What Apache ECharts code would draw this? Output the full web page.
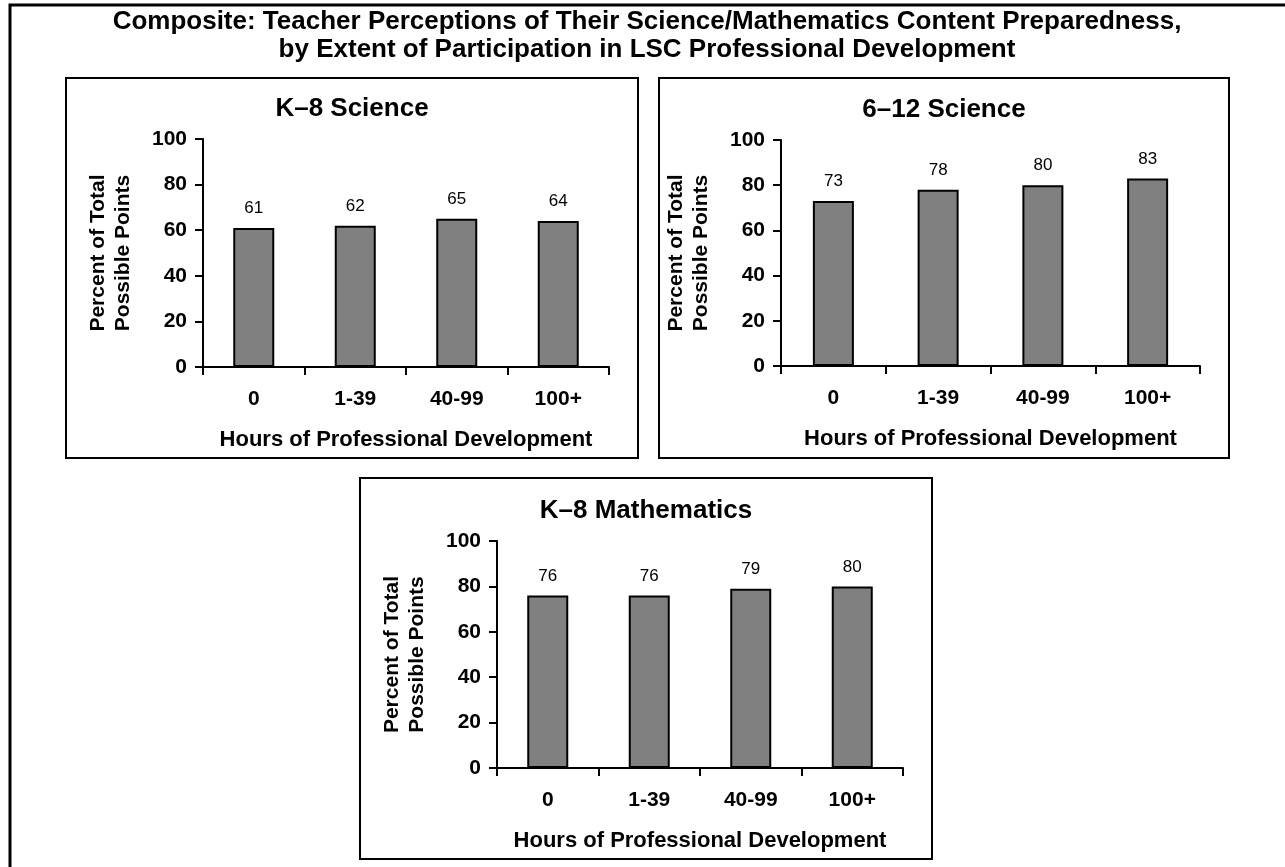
<!DOCTYPE html>
<html>
<head>
<meta charset="utf-8">
<script src="https://cdn.jsdelivr.net/npm/echarts@6/dist/echarts.min.js"></script>
<style>
html,body{margin:0;padding:0;background:#fff;}
#chart{width:1285px;height:867px;}
</style>
</head>
<body>
<div id="chart"></div>
<script>
// ---- data ----
const categories = ['0', '1-39', '40-99', '100+'];
const k8Science = [61, 62, 65, 64];
const science612 = [73, 78, 80, 83];
const k8Math = [76, 76, 79, 80];
const yMin = 0, yMax = 100, yInterval = 20;

const mainTitle = 'Composite: Teacher Perceptions of Their Science/Mathematics Content Preparedness,\nby Extent of Participation in LSC Professional Development';
const panelTitles = ['K\u20138 Science', '6\u201312 Science', 'K\u20138 Mathematics'];
const xName = 'Hours of Professional Development';
const yName = 'Percent of Total\nPossible Points';

const FONT = '"Liberation Sans", Arial, Helvetica, sans-serif';

// ---- layout ----
const grids = [
  {left: 203, top: 139, width: 406, height: 228},
  {left: 781, top: 140, width: 419, height: 226},
  {left: 497, top: 541, width: 406, height: 227}
];
const boxes = [
  {x: 66, y: 78, w: 572, h: 380},
  {x: 659, y: 78, w: 570, h: 380},
  {x: 360, y: 478, w: 572, h: 381}
];
const titleCenters = [[352, 109], [944, 110], [646, 511]];
const seriesData = [k8Science, science612, k8Math];

const chart = echarts.init(document.getElementById('chart'), null, {renderer: 'canvas'});

const titles = [{
  text: mainTitle,
  left: 647, top: 8, textAlign: 'center', padding: 0,
  textStyle: {fontFamily: FONT, fontWeight: 'bold', fontSize: 26, lineHeight: 28, color: '#000'}
}];
titleCenters.forEach((c, i) => {
  titles.push({
    text: panelTitles[i], left: c[0], top: c[1] - 15, textAlign: 'center', padding: 0,
    textStyle: {fontFamily: FONT, fontWeight: 'bold', fontSize: 26, lineHeight: 30, color: '#000'}
  });
});

const xAxes = [], yAxes = [], series = [];
grids.forEach((g, i) => {
  xAxes.push({
    type: 'category', gridIndex: i, data: categories,
    name: xName, nameLocation: 'middle', nameGap: 61,
    nameTextStyle: {fontFamily: FONT, fontWeight: 'bold', fontSize: 22, lineHeight: 24, color: '#000'},
    axisLine: {show: true, lineStyle: {color: '#000', width: 2}},
    axisTick: {show: true, alignWithLabel: false, interval: 0, length: 8, lineStyle: {color: '#000', width: 2}},
    axisLabel: {interval: 0, margin: 22, fontFamily: FONT, fontWeight: 'bold', fontSize: 21, color: '#000'},
    splitLine: {show: false}
  });
  yAxes.push({
    type: 'value', gridIndex: i, min: yMin, max: yMax, interval: yInterval,
    name: yName, nameLocation: 'middle', nameRotate: 90, nameGap: 67,
    nameTextStyle: {fontFamily: FONT, fontWeight: 'bold', fontSize: 21, lineHeight: 25, color: '#000'},
    axisLine: {show: true, lineStyle: {color: '#000', width: 2}},
    axisTick: {show: true, inside: false, length: 8, lineStyle: {color: '#000', width: 2}},
    axisLabel: {margin: 16, fontFamily: FONT, fontWeight: 'bold', fontSize: 21, color: '#000'},
    splitLine: {show: false}
  });
  series.push({
    type: 'bar', xAxisIndex: i, yAxisIndex: i, data: seriesData[i],
    barWidth: 41,
    itemStyle: {color: '#808080', borderColor: '#000', borderWidth: 2},
    label: {show: true, position: 'top', distance: 11, fontFamily: FONT, fontSize: 17, color: '#000'}
  });
});

const graphics = [{
  type: 'polyline', silent: true,
  shape: {points: [[10, 867], [10, 5], [1285, 5]]},
  style: {stroke: '#000', lineWidth: 3, fill: null}
}];
boxes.forEach(b => {
  graphics.push({
    type: 'rect', silent: true,
    shape: {x: b.x, y: b.y, width: b.w, height: b.h},
    style: {stroke: '#000', lineWidth: 2, fill: null}
  });
});

chart.setOption({
  animation: false,
  backgroundColor: '#fff',
  title: titles,
  grid: grids,
  xAxis: xAxes,
  yAxis: yAxes,
  series: series,
  graphic: graphics
});
</script>
</body>
</html>
